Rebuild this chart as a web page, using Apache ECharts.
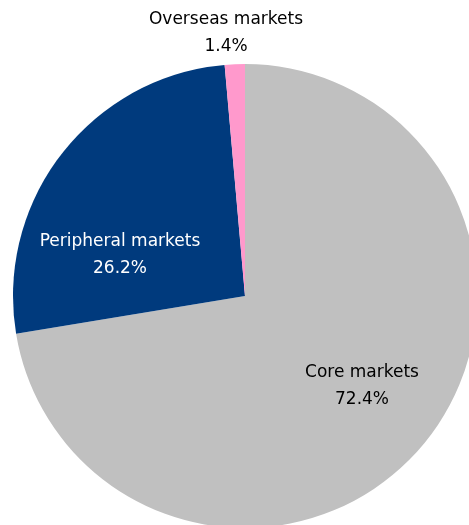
<!DOCTYPE html>
<html>
<head>
<meta charset="utf-8">
<script src="https://cdn.jsdelivr.net/npm/echarts@6/dist/echarts.min.js"></script>
<style>html,body{margin:0;padding:0;background:#fff;}#c{width:469px;height:525px;}</style>
</head>
<body>
<div id="c"></div>
<script>
const categories = ['Core markets', 'Peripheral markets', 'Overseas markets'];
const values = [72.4, 26.2, 1.4];
const colors = ['#c0c0c0', '#003a7d', '#ff99cc'];
const labelColors = ['#000000', '#ffffff', '#000000'];
const labelPos = [[362, 386], [120, 255], [226, 33]];

const chart = echarts.init(document.getElementById('c'));
chart.setOption({
  animation: false,
  series: [{
    type: 'pie',
    center: [245, 296],
    radius: 232,
    startAngle: 90,
    clockwise: true,
    avoidLabelOverlap: false,
    data: categories.map((n, i) => ({
      name: n, value: values[i],
      itemStyle: { color: colors[i] },
      label: { color: labelColors[i] }
    })),
    itemStyle: { borderWidth: 0 },
    label: {
      show: true,
      position: 'inside',
      formatter: p => p.name + '\n' + p.value.toFixed(1) + '%',
      fontFamily: 'DejaVu Sans',
      fontSize: 17,
      lineHeight: 27,
      align: 'center'
    },
    labelLine: { show: false },
    labelLayout: p => ({ x: labelPos[p.dataIndex][0], y: labelPos[p.dataIndex][1], align: 'center', verticalAlign: 'middle' })
  }]
});
</script>
</body>
</html>
